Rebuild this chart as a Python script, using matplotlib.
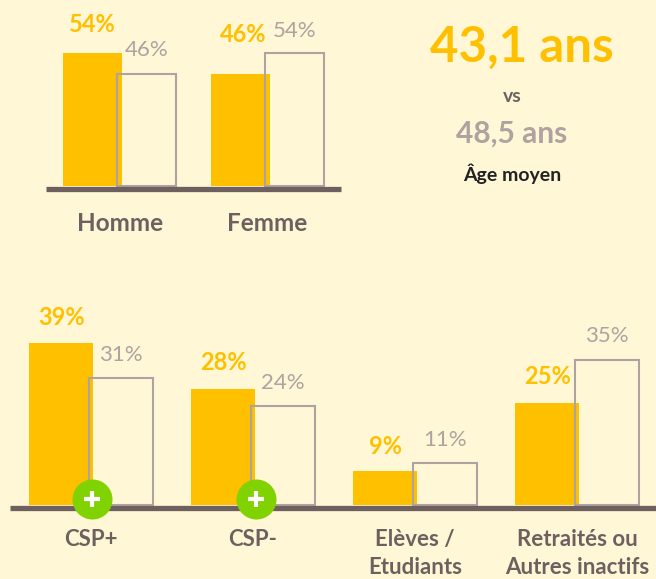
import matplotlib
matplotlib.use('Agg')
import matplotlib.pyplot as plt

W, H = 656, 579

gender_labels = ['Homme', 'Femme']
gender_gold = [54.4, 45.6]
gender_grey = [45.6, 54.4]
gender_gold_text = ['54%', '46%']
gender_grey_text = ['46%', '54%']

csp_labels = ['CSP+', 'CSP-', 'Elèves /\nEtudiants', 'Retraités ou\nAutres inactifs']
csp_gold = [39.1, 28, 8.2, 24.6]
csp_grey = [30.6, 23.9, 10.1, 35]
csp_gold_text = ['39%', '28%', '9%', '25%']
csp_grey_text = ['31%', '24%', '11%', '35%']
plus_groups = [0.005, 1.02]

age_gold = '43,1 ans'
age_grey = '48,5 ans'

BG = '#FFF7D6'
GOLD = '#FFC000'
GREY = '#AEA3A1'
DARK = '#6F6060'
GREEN = '#80D200'

plt.rcParams['font.family'] = ['Lato', 'DejaVu Sans']


def px_axes(fig, left, right, top, bottom):
    return fig.add_axes([left / W, 1 - bottom / H, (right - left) / W, (bottom - top) / H])


def draw_bars(ax, labels, gold, grey, gold_text, grey_text, width, offset, gold_dy, grey_dy, gold_dx=None):
    x = list(range(len(labels)))
    ax.bar([i - offset for i in x], gold, width, color=GOLD, zorder=2)
    ax.bar([i + offset for i in x], grey, width, facecolor='none', edgecolor=GREY, linewidth=1.5, zorder=3)

    for i in x:
        dx = gold_dx[i] if gold_dx else 0
        ax.annotate(gold_text[i], (i - offset, gold[i]), xytext=(dx * 0.72, gold_dy[i] * 0.72),
                    textcoords='offset points', ha='center', va='center',
                    color=GOLD, fontsize=17, fontweight='bold')
        ax.annotate(grey_text[i], (i + offset, grey[i]), xytext=(0, grey_dy[i] * 0.72),
                    textcoords='offset points', ha='center', va='center',
                    color=GREY, fontsize=16)

    ax.set_xlim(-0.5, len(labels) - 0.5)
    ax.set_xticks(x)
    ax.set_yticks([])
    for side in ['top', 'left', 'right']:
        ax.spines[side].set_visible(False)
    ax.spines['bottom'].set_linewidth(3.8)
    ax.spines['bottom'].set_color(DARK)
    ax.spines['bottom'].set_capstyle('butt')
    ax.spines['bottom'].set_zorder(4)
    ax.patch.set_alpha(0)


fig = plt.figure(figsize=(W / 100, H / 100), dpi=100, facecolor=BG)

ax1 = px_axes(fig, 46, 341, 20, 188.5)
draw_bars(ax1, gender_labels, gender_gold, gender_grey, gender_gold_text, gender_grey_text,
          0.4, 0.184, [28, 40], [24, 22], gold_dx=[0, 3.5])
ax1.set_ylim(-1, 67.8)
ax1.set_xticklabels(gender_labels, color=DARK, fontsize=17.5, fontweight='bold')
ax1.tick_params(axis='x', length=0, pad=17)

ax2 = px_axes(fig, 10, 658, 300, 508)
draw_bars(ax2, csp_labels, csp_gold, csp_grey, csp_gold_text, csp_grey_text,
          0.395, 0.184, [25, 26, 25, 26], [23, 23, 23, 24])
ax2.set_ylim(-0.6, 49.3)
ax2.set_xticklabels(csp_labels, color=DARK, fontsize=16, fontweight='bold', linespacing=1.45)
ax2.tick_params(axis='x', length=0, pad=15)

# green badges sit on top of the baseline
badge_y = [1.6 for g in plus_groups]
ax2.scatter(plus_groups, badge_y, s=830, color=GREEN, linewidths=0, zorder=5, clip_on=False)
ax2.scatter(plus_groups, badge_y, s=135, marker='+', color='white', linewidths=3, zorder=6, clip_on=False)

fig.text(522 / W, 1 - 47 / H, age_gold, color=GOLD, fontsize=35.5, fontweight='bold', ha='center', va='center')
fig.text(512 / W, 1 - 96 / H, 'vs', color=DARK, fontsize=14, fontweight='bold', ha='center', va='center')
fig.text(512 / W, 1 - 134 / H, age_grey, color=GREY, fontsize=21.5, fontweight='bold', ha='center', va='center')
fig.text(512 / W, 1 - 174 / H, 'Âge moyen', color='#222222', fontsize=14, fontweight='bold', ha='center', va='center')

fig.savefig('out.png', dpi=100, facecolor=BG)
